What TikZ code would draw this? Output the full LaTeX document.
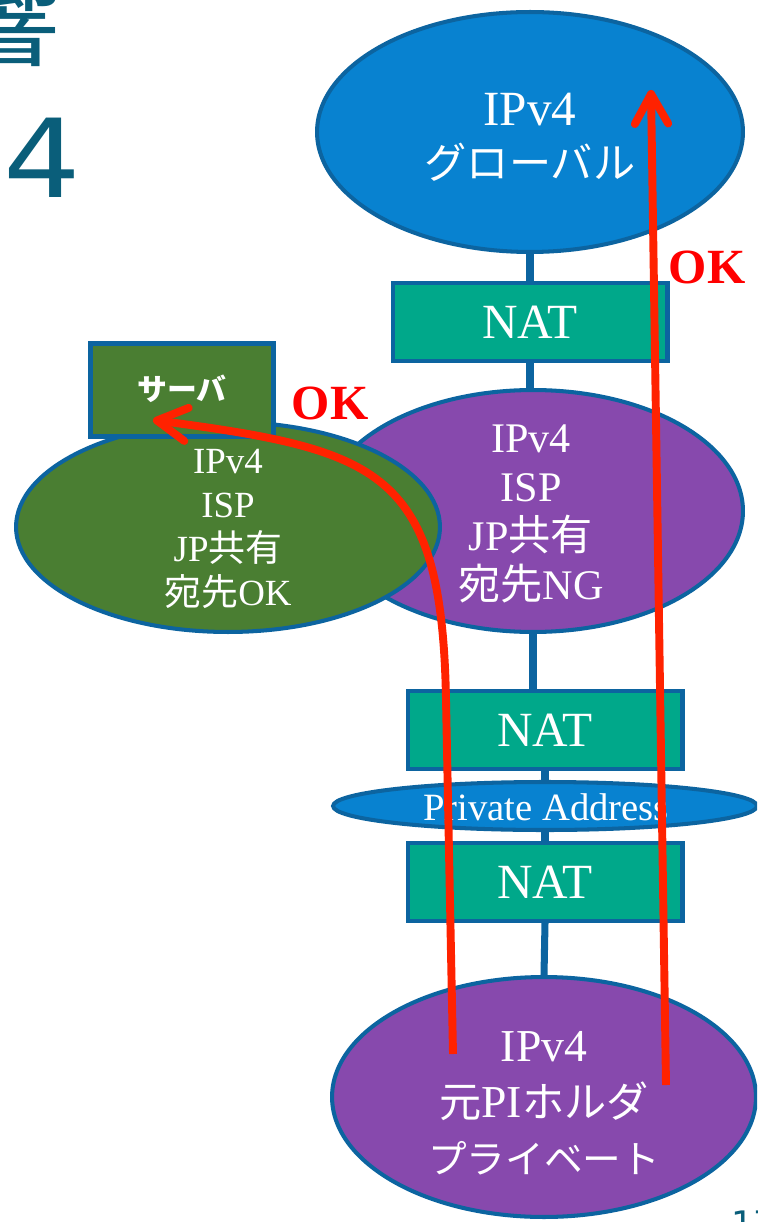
\documentclass[tikz,border=0pt]{standalone}
\usepackage{fontspec}
\setmainfont{Liberation Serif}
\newfontfamily\cjk{Noto Sans CJK JP}
\newfontfamily\headfont{DejaVu Sans}
\usetikzlibrary{shapes.geometric, arrows.meta}

\definecolor{rimblue}{RGB}{12,100,160}
\definecolor{globblue}{RGB}{8,130,208}
\definecolor{natgreen}{RGB}{0,168,138}
\definecolor{ispviolet}{RGB}{135,73,173}
\definecolor{ispgreen}{RGB}{74,126,50}
\definecolor{pathred}{RGB}{255,34,0}
\definecolor{headteal}{RGB}{10,94,122}

\newcommand{\jp}[1]{{\cjk #1}}

\tikzset{
	rim/.style = {draw=rimblue, line width=2.3pt},
	cloud/.style = {rim, ellipse, inner sep=0pt},
	natbox/.style = {rim, fill=natgreen, minimum width=5.5cm, minimum height=1.55cm, inner sep=0pt},
	label/.style = {text=white, align=center, inner sep=0pt},
	nattext/.style = {label, font=\fontsize{28}{30}\selectfont},
	okmark/.style = {text=red, font=\fontsize{28}{30}\selectfont\bfseries},
	wire/.style = {draw=rimblue, line width=4pt},
	route/.style = {draw=pathred, line width=4.5pt, -{Straight Barb[length=17pt,width=19pt,round]}}
}

\begin{document}
\begin{tikzpicture}[x = 0.02cm, y = -0.02cm]
		\fill[white] (0,0) rectangle (757,1222);
		\useasboundingbox (0,0) rectangle (757,1222);
		\clip (0,0) rectangle (757,1222);
		% slide title, cut off at the page edge
		\node [text=headteal, inner sep=0pt, anchor=base east, font=\cjk\fontsize{66}{70}\selectfont] (head1) at (62,58) {響};
		\node [text=headteal, inner sep=0pt, anchor=base east, xscale=1.12, font=\headfont\fontsize{62}{70}\selectfont] (head2) at (82,198) {IPv\kern0.2em4};
		\node [text=headteal, inner sep=0pt, anchor=north west, font=\headfont\fontsize{20}{22}\selectfont] (pageno) at (731,1211) {17};

		% networks and NATs
		\node [cloud, fill=globblue, minimum width=8.52cm, minimum height=4.8cm] (glob) at (530,132) {};
		\node [natbox] (nat1) at (530,322) {};
		\node [cloud, fill=ispviolet, minimum width=8.4cm, minimum height=4.84cm] (ispng) at (533,511) {};
		\node [cloud, fill=ispgreen, minimum width=8.48cm, minimum height=4.2cm] (ispok) at (228,527) {};
		\node [rim, fill=ispgreen, minimum width=3.66cm, minimum height=1.86cm, inner sep=0pt] (server) at (182,390) {};
		\node [natbox] (nat2) at (545,730) {};
		\node [cloud, fill=globblue, minimum width=8.48cm, minimum height=0.96cm] (priv) at (545,806) {};
		\node [natbox] (nat3) at (545,882) {};
		\node [cloud, fill=ispviolet, minimum width=8.48cm, minimum height=4.8cm] (home) at (544,1097) {};

		\draw [wire] (glob.south) -- (nat1.north);
		\draw [wire] (nat1.south) -- (nat1.south |- ispng.north);
		\draw [wire] (ispng.south) -- (ispng.south |- nat2.north);
		\draw [wire] (nat2.south) -- (priv.north);
		\draw [wire] (priv.south) -- (nat3.north);
		\draw [wire] (nat3.south) -- (home.north);

		% texts
		\node [label, font=\fontsize{28}{30}\selectfont] (globtxt) at (530,137) {IPv4\\\jp{\fontsize{24}{30}\selectfont グローバル}};
		\node [nattext] (nat1txt) at (530,322) {NAT};
		\node [label, font=\fontsize{24}{28}\selectfont] (ispngtxt) at (531,514) {IPv4\\ISP\\JP\jp{共有}\\\jp{宛先}NG};
		\node [label, font=\fontsize{21}{25}\selectfont] (ispoktxt) at (228,529) {IPv4\\ISP\\JP\jp{共有}\\\jp{宛先}OK};
		\node [label, font=\cjk\fontsize{17}{20}\selectfont\bfseries] (servertxt) at (182,389) {サーバ};
		\node [nattext] (nat2txt) at (545,730) {NAT};
		\node [label, font=\fontsize{22}{24}\selectfont] (privtxt) at (546,807) {Private Address};
		\node [nattext] (nat3txt) at (545,882) {NAT};
		\node [label, font=\fontsize{26}{32}\selectfont] (hometxt) at (544,1103) {IPv4\\\jp{\fontsize{24}{32}\selectfont 元}PI\jp{\fontsize{24}{32}\selectfont ホルダ}\\\jp{\fontsize{22}{32}\selectfont プライベート}};

		% the two routes
		\coordinate (fromL) at (453,1054);
		\coordinate (toL) at (153,420);
		\coordinate (fromR) at (666,1085);
		\coordinate (toR) at (651,90);
		\draw [route] (fromL) -- (446,700) .. controls (442,470) and (380,450) .. (toL);
		\draw [route] (fromR) -- (toR);
		\node [okmark] (okL) at (330,403) {OK};
		\node [okmark] (okR) at (707,267) {OK};
	\end{tikzpicture}
\end{document}
